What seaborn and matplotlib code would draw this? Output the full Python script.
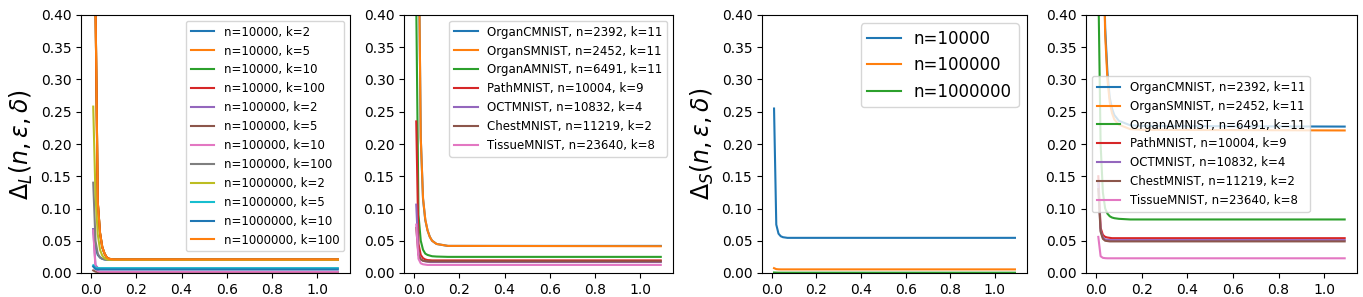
import seaborn as sns
import matplotlib.pyplot as plt

# Shared epsilon grid (x axis)
eps = [0.01, 0.02, 0.03, 0.04, 0.05, 0.06, 0.07, 0.08, 0.10, 0.15, 0.20, 1.09]

# ----- Panel 1: Delta_L for synthetic n, k -----
synth_lk_labels = ['n=10000, k=2', 'n=10000, k=5', 'n=10000, k=10', 'n=10000, k=100',
                   'n=100000, k=2', 'n=100000, k=5', 'n=100000, k=10', 'n=100000, k=100',
                   'n=1000000, k=2', 'n=1000000, k=5', 'n=1000000, k=10', 'n=1000000, k=100']
l_1e4_k2 = [0.068, 0.040, 0.028, 0.024, 0.022, 0.021, 0.0205, 0.0205, 0.0205, 0.0205, 0.0205, 0.0205]
l_1e4_k5 = [1.50, 0.42, 0.11, 0.062, 0.040, 0.030, 0.024, 0.022, 0.021, 0.021, 0.021, 0.021]
l_1e4_k10 = [1.50, 0.42, 0.11, 0.062, 0.040, 0.030, 0.024, 0.022, 0.021, 0.021, 0.021, 0.021]
l_1e4_k100 = [1.50, 0.42, 0.11, 0.062, 0.040, 0.030, 0.024, 0.022, 0.021, 0.021, 0.021, 0.021]
l_1e5_k2 = [0.068, 0.012, 0.008, 0.007, 0.007, 0.007, 0.007, 0.007, 0.007, 0.007, 0.007, 0.007]
l_1e5_k5 = [0.004, 0.002, 0.0015, 0.0015, 0.0015, 0.0015, 0.0015, 0.0015, 0.0015, 0.0015, 0.0015, 0.0015]
l_1e5_k10 = [0.066, 0.008, 0.003, 0.002, 0.002, 0.002, 0.002, 0.002, 0.002, 0.002, 0.002, 0.002]
l_1e5_k100 = [0.140, 0.050, 0.030, 0.024, 0.022, 0.021, 0.0205, 0.0205, 0.0205, 0.0205, 0.0205, 0.0205]
l_1e6_k2 = [0.258, 0.120, 0.060, 0.036, 0.027, 0.023, 0.021, 0.0205, 0.0205, 0.0205, 0.0205, 0.0205]
l_1e6_k5 = [0.012, 0.008, 0.0075, 0.0075, 0.0075, 0.0075, 0.0075, 0.0075, 0.0075, 0.0075, 0.0075, 0.0075]
l_1e6_k10 = [0.010, 0.006, 0.0055, 0.0055, 0.0055, 0.0055, 0.0055, 0.0055, 0.0055, 0.0055, 0.0055, 0.0055]
l_1e6_k100 = [1.50, 0.42, 0.11, 0.062, 0.040, 0.030, 0.024, 0.022, 0.021, 0.021, 0.021, 0.021]
synth_l = [l_1e4_k2, l_1e4_k5, l_1e4_k10, l_1e4_k100, l_1e5_k2, l_1e5_k5,
           l_1e5_k10, l_1e5_k100, l_1e6_k2, l_1e6_k5, l_1e6_k10, l_1e6_k100]

# ----- MedMNIST datasets -----
med_labels = ['OrganCMNIST, n=2392, k=11', 'OrganSMNIST, n=2452, k=11',
              'OrganAMNIST, n=6491, k=11', 'PathMNIST, n=10004, k=9',
              'OCTMNIST, n=10832, k=4', 'ChestMNIST, n=11219, k=2',
              'TissueMNIST, n=23640, k=8']

# Panel 2: Delta_L on MedMNIST
l_organc = [2.0, 0.55, 0.21, 0.115, 0.082, 0.066, 0.056, 0.050, 0.045, 0.042, 0.042, 0.042]
l_organs = [2.0, 0.56, 0.21, 0.116, 0.083, 0.066, 0.056, 0.050, 0.045, 0.042, 0.042, 0.0415]
l_organa = [0.42, 0.09, 0.050, 0.036, 0.030, 0.028, 0.027, 0.026, 0.0255, 0.025, 0.025, 0.025]
l_path = [0.235, 0.045, 0.028, 0.023, 0.021, 0.020, 0.0198, 0.0195, 0.0195, 0.0195, 0.0195, 0.0195]
l_oct = [0.106, 0.030, 0.021, 0.019, 0.018, 0.0175, 0.017, 0.017, 0.017, 0.017, 0.017, 0.017]
l_chest = [0.070, 0.028, 0.021, 0.019, 0.0185, 0.018, 0.018, 0.018, 0.018, 0.018, 0.018, 0.018]
l_tissue = [0.075, 0.022, 0.015, 0.0135, 0.013, 0.0125, 0.0125, 0.0125, 0.0125, 0.0125, 0.0125, 0.0125]
med_l = [l_organc, l_organs, l_organa, l_path, l_oct, l_chest, l_tissue]

# ----- Panel 3: Delta_S for synthetic n -----
synth_s_labels = ['n=10000', 'n=100000', 'n=1000000']
s_1e4 = [0.255, 0.075, 0.061, 0.057, 0.0555, 0.055, 0.0545, 0.0545, 0.0545, 0.0545, 0.0545, 0.0545]
s_1e5 = [0.0075, 0.006, 0.0057, 0.0056, 0.0056, 0.0056, 0.0056, 0.0056, 0.0056, 0.0056, 0.0056, 0.0056]
s_1e6 = [0.0008, 0.0006, 0.0005, 0.0005, 0.0005, 0.0005, 0.0005, 0.0005, 0.0005, 0.0005, 0.0005, 0.0005]
synth_s = [s_1e4, s_1e5, s_1e6]

# Panel 4: Delta_S on MedMNIST
s_organc = [3.0, 1.2, 0.56, 0.38, 0.31, 0.272, 0.255, 0.245, 0.236, 0.229, 0.228, 0.227]
s_organs = [3.0, 1.2, 0.55, 0.37, 0.30, 0.265, 0.248, 0.238, 0.230, 0.223, 0.222, 0.221]
s_organa = [0.45, 0.20, 0.125, 0.100, 0.092, 0.088, 0.086, 0.085, 0.084, 0.083, 0.083, 0.083]
s_path = [0.150, 0.070, 0.059, 0.056, 0.055, 0.0545, 0.054, 0.054, 0.054, 0.054, 0.054, 0.054]
s_oct = [0.140, 0.066, 0.055, 0.052, 0.0515, 0.051, 0.051, 0.051, 0.051, 0.051, 0.051, 0.051]
s_chest = [0.130, 0.064, 0.053, 0.050, 0.0495, 0.049, 0.049, 0.049, 0.049, 0.049, 0.049, 0.049]
s_tissue = [0.056, 0.026, 0.0235, 0.023, 0.0228, 0.0228, 0.0228, 0.0228, 0.0228, 0.0228, 0.0228, 0.0228]
med_s = [s_organc, s_organs, s_organa, s_path, s_oct, s_chest, s_tissue]


def draw_panel(ax, series, labels, legend_size, legend_loc):
    for vals, lab in zip(series, labels):
        sns.lineplot(x=eps, y=vals, ax=ax, label=lab)
    ax.set_ylim(0, 0.4)
    ax.tick_params(labelsize=10)
    ax.legend(fontsize=legend_size, loc=legend_loc)


fig = plt.figure(figsize=(13.63, 2.97), dpi=100)
W, H = 1363.0, 297.0
bottom = (H - 273) / H
height = 258 / H
width = 269 / W
ax1 = fig.add_axes([81 / W, bottom, width, height])
ax2 = fig.add_axes([404 / W, bottom, width, height])
ax3 = fig.add_axes([762 / W, bottom, 265 / W, height])
ax4 = fig.add_axes([1086 / W, bottom, 271 / W, height])

draw_panel(ax1, synth_l, synth_lk_labels, 8.5, 'upper right')
draw_panel(ax2, med_l, med_labels, 8.5, 'upper right')
draw_panel(ax3, synth_s, synth_s_labels, 12, 'upper right')
draw_panel(ax4, med_s, med_labels, 8.5, 'center left')

ax1.set_ylabel(r'$\Delta_L(n,\varepsilon,\delta)$', fontsize=17)
ax3.set_ylabel(r'$\Delta_S(n,\varepsilon,\delta)$', fontsize=17)

fig.savefig('out.png', dpi=100)
